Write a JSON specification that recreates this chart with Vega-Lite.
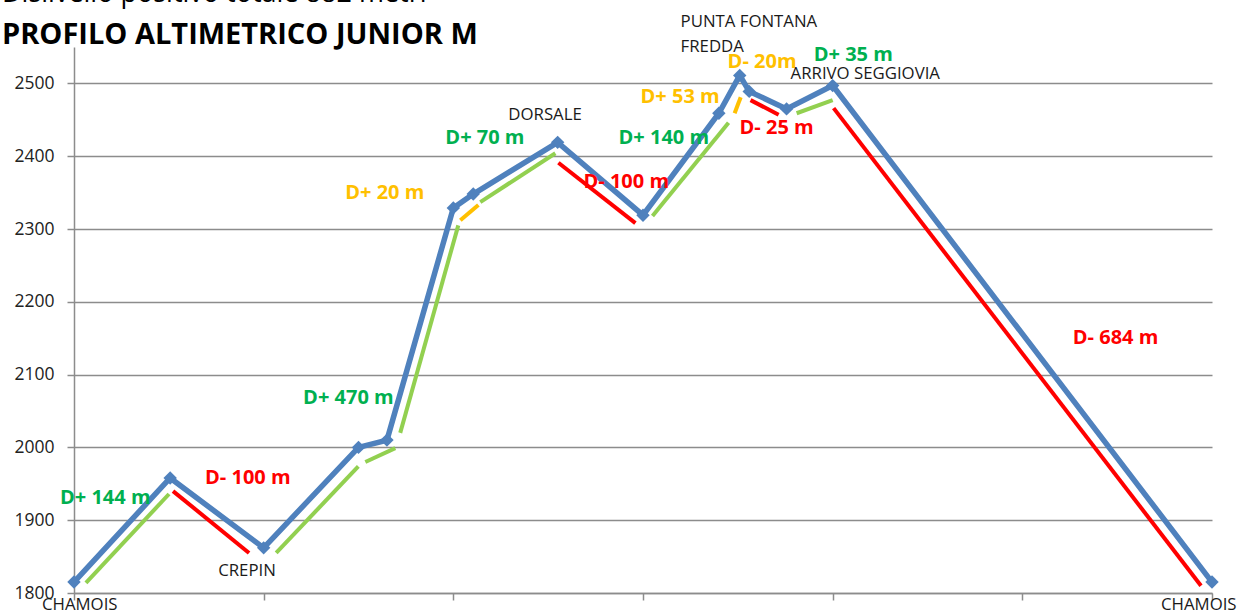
{
  "$schema": "https://vega.github.io/schema/vega-lite/v6.json",
  "width": 1138,
  "height": 546,
  "autosize": {"type": "none"},
  "padding": {"left": 74, "top": 47, "right": 29, "bottom": 21},
  "background": "white",
  "config": {"view": {"stroke": null}, "font": "Open Sans"},
  "title": {
    "text": "Dislivello positivo totale 882 metri",
    "subtitle": "PROFILO ALTIMETRICO JUNIOR M",
    "anchor": "start",
    "frame": "group",
    "dx": -72,
    "offset": -37,
    "font": "Open Sans",
    "fontSize": 27,
    "fontWeight": "normal",
    "color": "#000000",
    "subtitleFont": "Open Sans",
    "subtitleFontSize": 29,
    "subtitleFontWeight": "bold",
    "subtitleColor": "#000000",
    "subtitlePadding": 13
  },
  "datasets": {
    "profilo": [
      {"km": 0.0, "quota": 1815},
      {"km": 0.507, "quota": 1958},
      {"km": 1.0, "quota": 1862},
      {"km": 1.5, "quota": 2000},
      {"km": 1.65, "quota": 2010},
      {"km": 2.0, "quota": 2329},
      {"km": 2.105, "quota": 2348},
      {"km": 2.55, "quota": 2419},
      {"km": 3.0, "quota": 2319},
      {"km": 3.4, "quota": 2459},
      {"km": 3.51, "quota": 2511},
      {"km": 3.56, "quota": 2489},
      {"km": 3.757, "quota": 2465},
      {"km": 4.0, "quota": 2497},
      {"km": 6.0, "quota": 1815}
    ],
    "tratti": [
      {"seg": 1, "tipo": "salita", "km": 0.063, "quota": 1814},
      {"seg": 1, "tipo": "salita", "km": 0.501, "quota": 1936},
      {"seg": 2, "tipo": "discesa", "km": 0.522, "quota": 1940},
      {"seg": 2, "tipo": "discesa", "km": 0.923, "quota": 1855},
      {"seg": 3, "tipo": "salita", "km": 1.066, "quota": 1855},
      {"seg": 3, "tipo": "salita", "km": 1.499, "quota": 1974},
      {"seg": 4, "tipo": "salita", "km": 1.536, "quota": 1980},
      {"seg": 4, "tipo": "salita", "km": 1.694, "quota": 1999},
      {"seg": 5, "tipo": "salita", "km": 1.72, "quota": 2020},
      {"seg": 5, "tipo": "salita", "km": 2.026, "quota": 2305},
      {"seg": 6, "tipo": "breve", "km": 2.037, "quota": 2312},
      {"seg": 6, "tipo": "breve", "km": 2.132, "quota": 2333},
      {"seg": 7, "tipo": "salita", "km": 2.142, "quota": 2337},
      {"seg": 7, "tipo": "salita", "km": 2.538, "quota": 2404},
      {"seg": 8, "tipo": "discesa", "km": 2.554, "quota": 2391},
      {"seg": 8, "tipo": "discesa", "km": 2.96, "quota": 2308},
      {"seg": 9, "tipo": "salita", "km": 3.05, "quota": 2318},
      {"seg": 9, "tipo": "salita", "km": 3.451, "quota": 2446},
      {"seg": 10, "tipo": "breve", "km": 3.483, "quota": 2459},
      {"seg": 10, "tipo": "breve", "km": 3.515, "quota": 2481},
      {"seg": 11, "tipo": "discesa", "km": 3.567, "quota": 2477},
      {"seg": 11, "tipo": "discesa", "km": 3.715, "quota": 2457},
      {"seg": 12, "tipo": "salita", "km": 3.81, "quota": 2459},
      {"seg": 12, "tipo": "salita", "km": 4.0, "quota": 2477},
      {"seg": 13, "tipo": "discesa", "km": 4.005, "quota": 2466},
      {"seg": 13, "tipo": "discesa", "km": 5.942, "quota": 1810}
    ],
    "etichette": [
      {"testo": "D+ 144 m", "tipo": "salita", "km": -0.074, "quota": 1930},
      {"testo": "D- 100 m", "tipo": "discesa", "km": 0.691, "quota": 1958},
      {"testo": "D+ 470 m", "tipo": "salita", "km": 1.208, "quota": 2068},
      {"testo": "D+ 20 m", "tipo": "breve", "km": 1.43, "quota": 2349},
      {"testo": "D+ 70 m", "tipo": "salita", "km": 1.958, "quota": 2425},
      {"testo": "D- 100 m", "tipo": "discesa", "km": 2.686, "quota": 2365},
      {"testo": "D+ 140 m", "tipo": "salita", "km": 2.871, "quota": 2425},
      {"testo": "D+ 53 m", "tipo": "breve", "km": 2.987, "quota": 2481},
      {"testo": "D- 20m", "tipo": "breve", "km": 3.446, "quota": 2529},
      {"testo": "D+ 35  m", "tipo": "salita", "km": 3.9, "quota": 2539},
      {"testo": "D- 25 m", "tipo": "discesa", "km": 3.509, "quota": 2439},
      {"testo": "D- 684 m", "tipo": "discesa", "km": 5.266, "quota": 2150}
    ],
    "luoghi": [
      {"testo": "CHAMOIS", "km": -0.169, "quota": 1783},
      {"testo": "CREPIN", "km": 0.76, "quota": 1830},
      {"testo": "DORSALE", "km": 2.29, "quota": 2457},
      {"testo": "PUNTA FONTANA", "km": 3.198, "quota": 2584},
      {"testo": "FREDDA", "km": 3.198, "quota": 2550},
      {"testo": "ARRIVO SEGGIOVIA", "km": 3.778, "quota": 2513},
      {"testo": "CHAMOIS", "km": 5.731, "quota": 1783}
    ]
  },
  "resolve": {"scale": {"color": "independent"}},
  "layer": [
    {
      "data": {"name": "profilo"},
      "mark": {"type": "line", "color": "#4F81BD", "strokeWidth": 5.5, "strokeJoin": "miter"},
      "encoding": {
        "x": {
          "field": "km", "type": "quantitative",
          "scale": {"domain": [0, 6], "nice": false, "zero": false},
          "axis": {
            "values": [0, 1, 2, 3, 4, 5, 6],
            "labels": false, "title": null, "grid": false,
            "domainColor": "#8c8c8c", "domainWidth": 1.5,
            "tickColor": "#8c8c8c", "tickSize": 7, "tickWidth": 1.5
          }
        },
        "y": {
          "field": "quota", "type": "quantitative",
          "scale": {"domain": [1800, 2550], "nice": false, "zero": false},
          "axis": {
            "values": [1800, 1900, 2000, 2100, 2200, 2300, 2400, 2500],
            "format": "d",
            "title": null,
            "grid": true, "gridColor": "#8c8c8c", "gridWidth": 1.5,
            "domainColor": "#8c8c8c", "domainWidth": 1.5,
            "tickColor": "#8c8c8c", "tickSize": 7, "tickWidth": 1.5,
            "labelFont": "Open Sans", "labelFontSize": 17.5, "labelColor": "#222222",
            "labelPadding": 13
          }
        }
      }
    },
    {
      "data": {"name": "tratti"},
      "mark": {"type": "line", "strokeWidth": 4, "strokeCap": "butt"},
      "encoding": {
        "x": {"field": "km", "type": "quantitative"},
        "y": {"field": "quota", "type": "quantitative"},
        "detail": {"field": "seg", "type": "nominal"},
        "color": {
          "field": "tipo", "type": "nominal",
          "scale": {"domain": ["salita", "discesa", "breve"], "range": ["#92D050", "#FF0000", "#FFC000"]},
          "legend": null
        }
      }
    },
    {
      "data": {"name": "profilo"},
      "mark": {"type": "point", "shape": "diamond", "filled": true, "size": 180, "color": "#4F81BD", "opacity": 1},
      "encoding": {
        "x": {"field": "km", "type": "quantitative"},
        "y": {"field": "quota", "type": "quantitative"}
      }
    },
    {
      "data": {"name": "etichette"},
      "mark": {"type": "text", "align": "left", "baseline": "middle", "font": "Open Sans", "fontSize": 20, "fontWeight": "bold"},
      "encoding": {
        "x": {"field": "km", "type": "quantitative"},
        "y": {"field": "quota", "type": "quantitative"},
        "text": {"field": "testo", "type": "nominal"},
        "color": {
          "field": "tipo", "type": "nominal",
          "scale": {"domain": ["salita", "discesa", "breve"], "range": ["#00B050", "#FF0000", "#FFC000"]},
          "legend": null
        }
      }
    },
    {
      "data": {"name": "luoghi"},
      "mark": {"type": "text", "align": "left", "baseline": "middle", "font": "Open Sans", "fontSize": 16.8, "color": "#1a1a1a"},
      "encoding": {
        "x": {"field": "km", "type": "quantitative"},
        "y": {"field": "quota", "type": "quantitative"},
        "text": {"field": "testo", "type": "nominal"}
      }
    }
  ]
}
